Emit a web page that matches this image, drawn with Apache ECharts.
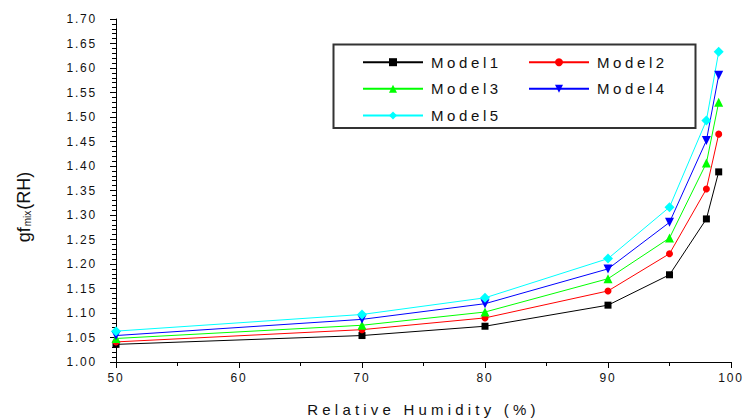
<!DOCTYPE html>
<html>
<head>
<meta charset="utf-8">
<script src="https://cdn.jsdelivr.net/npm/echarts@6/dist/echarts.min.js"></script>
<style>
html,body{margin:0;padding:0;background:#fff}
#c{width:745px;height:419px}
</style>
</head>
<body>
<div id="c"></div>
<script>
// ---- data ----
const rh = [50, 70, 80, 90, 95, 98, 99];
const model1 = [1.036, 1.054, 1.073, 1.116, 1.178, 1.292, 1.388];
const model2 = [1.041, 1.066, 1.090, 1.145, 1.221, 1.353, 1.465];
const model3 = [1.048, 1.075, 1.102, 1.170, 1.253, 1.406, 1.530];
const model4 = [1.054, 1.087, 1.119, 1.190, 1.285, 1.452, 1.585];
const model5 = [1.063, 1.097, 1.131, 1.211, 1.316, 1.493, 1.633];
const seriesNames = ['Model1', 'Model2', 'Model3', 'Model4', 'Model5'];
const xTicks = { min: 50, max: 100, interval: 10 };
const yTicks = { min: 1.00, max: 1.70, interval: 0.05 };
const xTitle = 'Relative Humidity (%)';
const yTitleRich = '{a|gf}{b|mix}{a|(RH)}';

// ---- styling ----
const FONT = '"Liberation Sans", Arial, sans-serif';
const TXT = '#111';
const colors = ['#000000', '#ff0000', '#00ff00', '#0000ff', '#00ffff'];
const symbols = ['rect', 'circle', 'triangle', 'triangle', 'diamond'];
const rotates = [0, 0, 0, 180, 0];
const sizes = [7, 7, 9, 9, 10];
const allValues = [model1, model2, model3, model4, model5];

const series = allValues.map((vals, i) => ({
  name: seriesNames[i],
  type: 'line',
  data: rh.map((x, j) => [x, vals[j]]),
  symbol: symbols[i],
  symbolRotate: rotates[i],
  symbolSize: sizes[i],
  showAllSymbol: true,
  color: colors[i],
  lineStyle: { color: colors[i], width: 1 },
  itemStyle: { color: colors[i] },
  emphasis: { disabled: true },
  animation: false
}));

const legendPos = [
  [362, 62.7], [528, 62.7],
  [362, 89.3], [528, 89.3],
  [362, 116]
];
const legends = seriesNames.map((n, i) => ({
  data: [n],
  left: legendPos[i][0],
  top: legendPos[i][1] - 8,
  orient: 'horizontal',
  padding: 0,
  itemWidth: 60,
  itemHeight: 10,
  selectedMode: false,
  textStyle: { fontSize: 15, fontFamily: FONT, color: TXT, padding: [0, 0, 0, 3] }
}));

const chart = echarts.init(document.getElementById('c'), null, { renderer: 'svg' });
chart.setOption({
  animation: false,
  backgroundColor: '#fff',
  grid: { left: 116, right: 14, top: 19, bottom: 57, containLabel: false, outerBoundsMode: 'none' },
  legend: legends,
  xAxis: {
    type: 'value',
    min: xTicks.min, max: xTicks.max, interval: xTicks.interval,
    name: xTitle, nameLocation: 'middle', nameGap: 40,
    nameTextStyle: { fontSize: 15, fontFamily: FONT, color: TXT },
    axisLine: { show: true, onZero: false, lineStyle: { color: '#000', width: 1 } },
    axisTick: { show: true, inside: false, length: 6, lineStyle: { color: '#000' } },
    minorTick: { show: true, splitNumber: 2, length: 4, lineStyle: { color: '#000' } },
    splitLine: { show: false },
    axisLabel: { fontSize: 12, fontFamily: FONT, color: TXT, margin: 10 }
  },
  yAxis: {
    type: 'value',
    min: yTicks.min, max: yTicks.max, interval: yTicks.interval,
    axisLine: { show: true, onZero: false, lineStyle: { color: '#000', width: 1 } },
    axisTick: { show: true, inside: false, length: 6, lineStyle: { color: '#000' } },
    minorTick: { show: true, splitNumber: 5, length: 4, lineStyle: { color: '#000' } },
    splitLine: { show: false },
    axisLabel: { fontSize: 12, fontFamily: FONT, color: TXT, margin: 19,
      formatter: v => v.toFixed(2) }
  },
  graphic: [
    {
      type: 'rect',
      shape: { x: 333.5, y: 44.5, width: 362, height: 83.5 },
      style: { fill: 'none', stroke: '#333', lineWidth: 2 },
      silent: true, z: 100
    },
    {
      type: 'text',
      x: 22, y: 207,
      rotation: Math.PI / 2,
      silent: true,
      style: {
        text: yTitleRich,
        align: 'center',
        verticalAlign: 'middle',
        rich: {
          a: { fontSize: 18, fontFamily: FONT, fill: TXT, lineHeight: 21, verticalAlign: 'bottom' },
          b: { fontSize: 10, fontFamily: FONT, fill: TXT, lineHeight: 10, verticalAlign: 'bottom', padding: [0, 1, 0, 1] }
        }
      }
    }
  ],
  series: series
});

function fixSpacing() {
  document.querySelectorAll('#c svg text').forEach(t => {
    const s = t.textContent || '';
    let ls = '0.15em';
    if (/^Model/.test(s)) ls = '0.24em';
    else if (/Relative/.test(s)) ls = '0.28em';
    else if (/^(gf|mix|\(RH\))$/.test(s)) ls = '0';
    t.style.letterSpacing = ls;
  });
}
fixSpacing();
chart.on('finished', fixSpacing);
</script>
</body>
</html>
